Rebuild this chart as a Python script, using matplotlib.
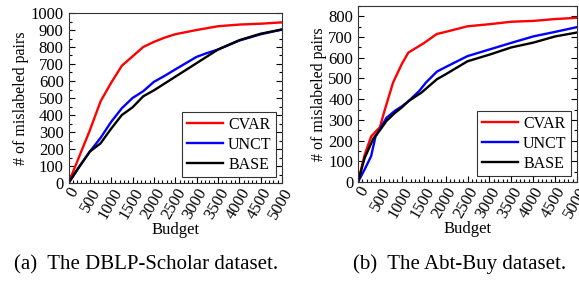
import matplotlib
matplotlib.use("Agg")
import matplotlib.pyplot as plt
from matplotlib.ticker import MultipleLocator

plt.rcParams['font.family'] = ['Liberation Serif', 'DejaVu Serif']
plt.rcParams['mathtext.fontset'] = 'stix'

# DBLP-Scholar
dblp_cvar_x = [0, 250, 500, 750, 1000, 1250, 1500, 1750, 2000, 2250, 2500, 3000, 3500, 4000, 4500, 5000]
dblp_cvar_y = [0, 155, 310, 480, 590, 690, 745, 800, 830, 855, 875, 900, 922, 932, 937, 945]
dblp_unct_x = [0, 250, 500, 750, 1000, 1250, 1500, 1750, 2000, 2250, 2500, 2750, 3000, 3250, 3500, 4000, 4500, 5000]
dblp_unct_y = [0, 95, 185, 265, 360, 440, 500, 540, 595, 630, 668, 705, 742, 765, 785, 838, 875, 903]
dblp_base_x = [0, 250, 500, 750, 1000, 1250, 1500, 1750, 2000, 2250, 2500, 2750, 3000, 3250, 3500, 4000, 4500, 5000]
dblp_base_y = [0, 95, 185, 233, 320, 400, 445, 510, 545, 585, 625, 665, 705, 745, 785, 840, 878, 903]

# Abt-Buy
abt_cvar_x = [0, 150, 300, 500, 600, 800, 1000, 1150, 1500, 1800, 2000, 2500, 3000, 3500, 4000, 4500, 5000]
abt_cvar_y = [0, 130, 220, 265, 340, 480, 570, 625, 670, 715, 725, 752, 762, 774, 778, 787, 793]
abt_unct_x = [0, 150, 300, 400, 500, 650, 850, 1000, 1150, 1400, 1550, 1800, 2000, 2500, 3000, 3500, 4000, 4500, 5000]
abt_unct_y = [0, 60, 125, 220, 255, 310, 345, 365, 390, 440, 480, 533, 555, 608, 640, 672, 703, 725, 748]
abt_base_x = [0, 150, 350, 500, 650, 850, 1000, 1150, 1450, 1800, 2000, 2500, 3000, 3500, 4000, 4500, 5000]
abt_base_y = [0, 115, 210, 250, 295, 335, 360, 390, 432, 496, 520, 583, 615, 650, 673, 703, 722]

x_ticks = [0, 500, 1000, 1500, 2000, 2500, 3000, 3500, 4000, 4500, 5000]

fig = plt.figure(figsize=(5.79, 2.81), dpi=100)
W, H = 579, 281
ax1 = fig.add_axes([68.5 / W, 1 - 183 / H, (282 - 68.5) / W, (183 - 13) / H])
ax2 = fig.add_axes([358 / W, 1 - 182 / H, (577 - 358) / W, (182 - 6) / H])


def style(ax, ymax, ystep):
    ax.set_xlim(0, 5000)
    ax.set_ylim(0, ymax)
    ax.set_xticks(x_ticks)
    ax.set_xticklabels([str(t) for t in x_ticks], rotation=60, ha='right', va='top',
                       rotation_mode='anchor')
    ax.yaxis.set_major_locator(MultipleLocator(ystep))
    ax.xaxis.set_minor_locator(MultipleLocator(100))
    ax.yaxis.set_minor_locator(MultipleLocator(50))
    ax.tick_params(which='both', direction='in', top=False, right=True, labelsize=12,
                   width=0.8)
    ax.tick_params(axis='x', pad=1.5)
    ax.tick_params(axis='y', pad=3.5)
    ax.tick_params(which='major', length=4)
    ax.tick_params(which='minor', length=2)
    for s in ax.spines.values():
        s.set_linewidth(0.8)
        s.set_color('#333333')
    ax.set_xlabel('Budget', fontsize=12, labelpad=0)
    ax.set_ylabel('# of mislabeled pairs', fontsize=11.5, labelpad=1)
    leg = ax.legend(loc='lower right', fontsize=11.5, handlelength=2.3, frameon=True,
                    fancybox=False, borderpad=0.3, labelspacing=0.25, handletextpad=0.3,
                    borderaxespad=0.35)
    leg.get_frame().set_edgecolor('black')
    leg.get_frame().set_linewidth(0.8)


ax1.plot(dblp_cvar_x, dblp_cvar_y, color='#ff0000', lw=1.7, label='CVAR')
ax1.plot(dblp_unct_x, dblp_unct_y, color='#0000ff', lw=1.7, label='UNCT')
ax1.plot(dblp_base_x, dblp_base_y, color='black', lw=1.7, label='BASE')
style(ax1, 1000, 100)

ax2.plot(abt_cvar_x, abt_cvar_y, color='#ff0000', lw=1.7, label='CVAR')
ax2.plot(abt_unct_x, abt_unct_y, color='#0000ff', lw=1.7, label='UNCT')
ax2.plot(abt_base_x, abt_base_y, color='black', lw=1.7, label='BASE')
style(ax2, 850, 100)

fig.text(146 / W, 1 - 265 / H, '(a)  The DBLP-Scholar dataset.', ha='center', va='center',
         fontsize=15)
fig.text(460 / W, 1 - 264 / H, '(b)  The Abt-Buy dataset.', ha='center', va='center',
         fontsize=15)

fig.savefig('out.png', dpi=100)
